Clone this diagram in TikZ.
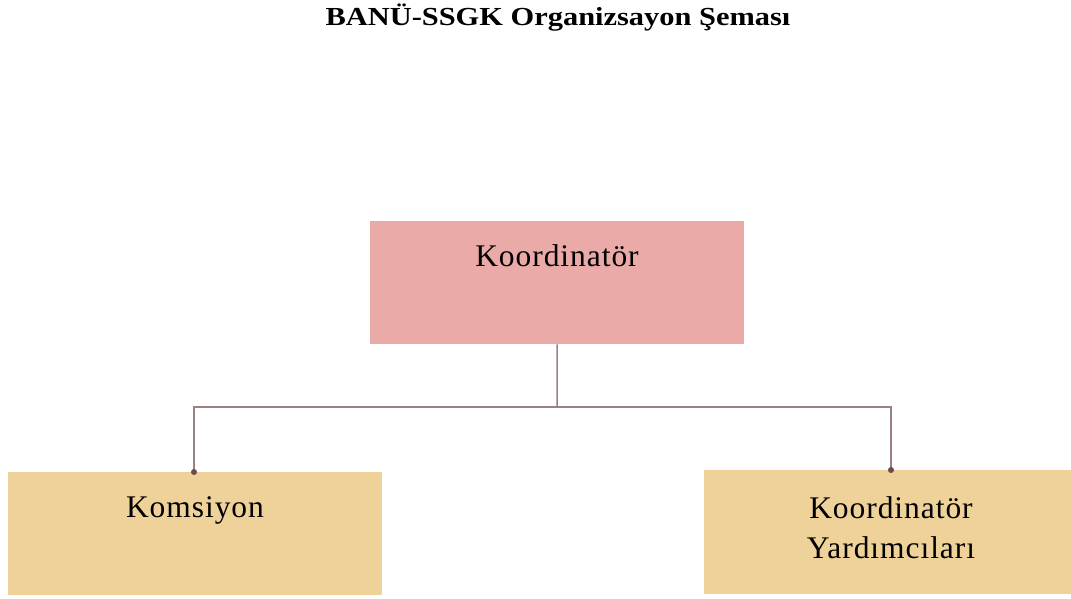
\documentclass[tikz,border=0pt]{standalone}
\usepackage{fontspec}
\usepackage{graphicx}
\setmainfont{Liberation Serif}
\definecolor{topfill}{HTML}{E9AAA8}
\definecolor{subfill}{HTML}{EFD19A}
\definecolor{linec}{HTML}{9A8282}
\definecolor{dotc}{HTML}{6E4A4A}
\tikzset{
  box/.style={rectangle, inner sep=0pt, anchor=north west},
  boxtext/.style={inner sep=0pt, font=\fontsize{31.5}{40}\selectfont\addfontfeature{LetterSpace=3}, align=center},
  conn/.style={draw=linec, line width=1.5pt},
  dot/.style={circle, fill=dotc, inner sep=0pt, minimum size=6pt}
}
\begin{document}
\begin{tikzpicture}[x=1pt,y=-1pt]
\useasboundingbox (0,0) rectangle (1071,598);
\node[inner sep=0pt, font=\bfseries\fontsize{26}{30}\selectfont] (title) at (558,18) {\scalebox{1.17}[1]{BANÜ-SSGK Organizsayon Şeması}};
\node[box, fill=topfill, minimum width=374pt, minimum height=123pt] (koord) at (370,221) {};
\node[box, fill=subfill, minimum width=374pt, minimum height=123pt] (koms) at (8,472) {};
\node[box, fill=subfill, minimum width=367pt, minimum height=124pt] (yard) at (704,470) {};
\node[boxtext] (t1) at (557,256) {Koordinatör};
\node[boxtext] (t2) at (195,510) {Komsiyon};
\node[boxtext] (t3) at (891,528) {Koordinatör\\Yardımcıları};
\coordinate (jn) at (557,407);
\coordinate (cl) at (194,472);
\coordinate (cr) at (891,470);
\draw[conn] (koord.south) -- (jn);
\draw[conn] (jn) -| (cl);
\draw[conn] (jn) -| (cr);
\node[dot] at (cl) {};
\node[dot] at (cr) {};
\end{tikzpicture}
\end{document}
